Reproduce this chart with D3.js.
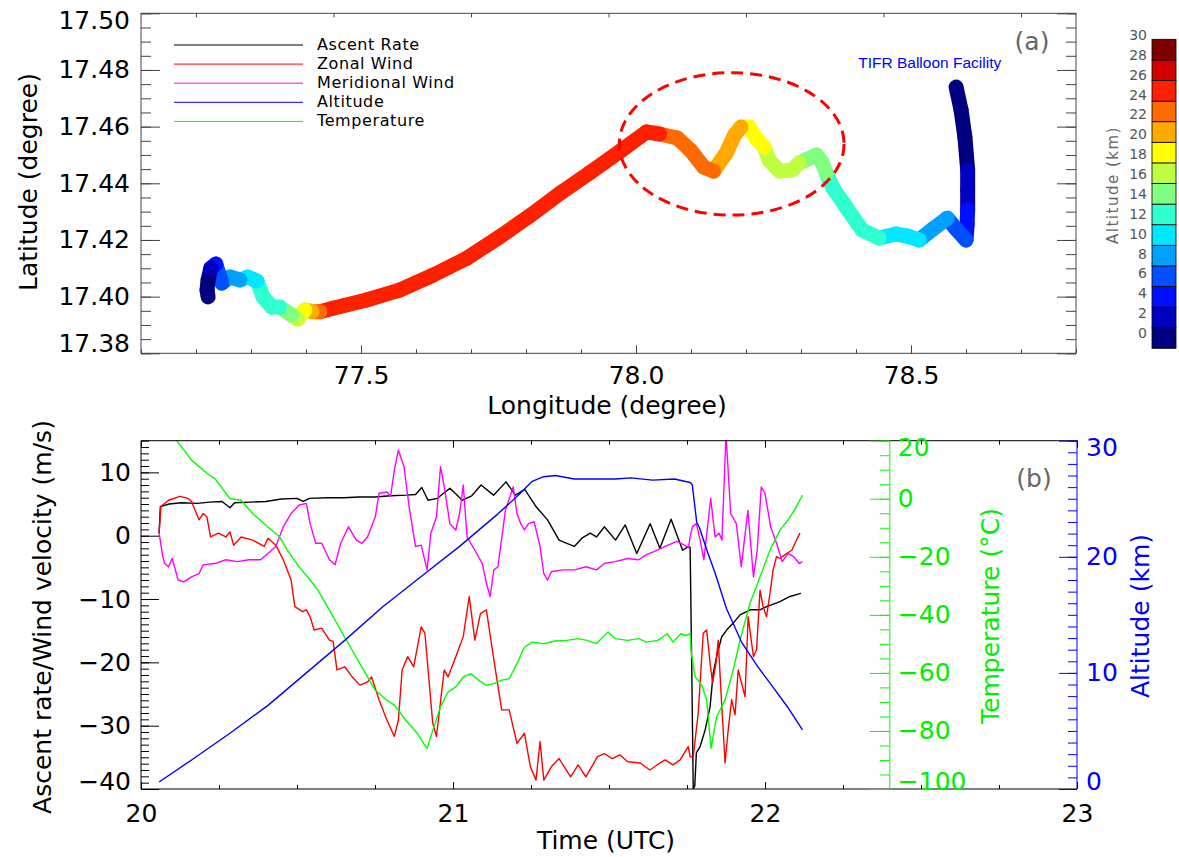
<!DOCTYPE html>
<html>
<head>
<meta charset="utf-8">
<script src="https://cdn.jsdelivr.net/npm/d3@7/dist/d3.min.js"></script>
<style>
  body { margin: 0; background: #fff; }
  svg text { font-family: "DejaVu Sans", sans-serif; }
</style>
</head>
<body>
<svg id="chart" width="1179" height="857"></svg>
<script>
// ---- panel (a): balloon track, colour = altitude (km) ----
var trackLon = [78.582,78.591,78.598,78.603,78.603,78.603,78.602,78.600,78.582,78.566,78.540,78.515,78.493,78.473,78.442,78.411,78.382,78.357,78.346,78.338,78.328,78.297,78.284,78.261,78.242,78.233,78.218,78.206,78.191,78.179,78.164,78.141,78.123,78.099,78.075,78.043,78.019,77.974,77.915,77.865,77.806,77.752,77.692,77.631,77.570,77.510,77.449,77.425,77.411,77.398,77.385,77.374,77.352,77.338,77.322,77.311,77.294,77.280,77.262,77.247,77.236,77.227,77.222,77.220,77.222];
var trackLat = [17.474,17.4659,17.4563,17.4447,17.4376,17.4306,17.4253,17.42,17.4239,17.4277,17.4239,17.42,17.4214,17.4221,17.4207,17.4235,17.4316,17.4387,17.4436,17.4475,17.45,17.4472,17.4447,17.4443,17.4482,17.4528,17.456,17.4599,17.4599,17.457,17.4507,17.4443,17.4457,17.4517,17.456,17.4574,17.4581,17.4517,17.4436,17.4369,17.4284,17.4211,17.4135,17.4076,17.4023,17.3988,17.3959,17.3947,17.3947,17.3953,17.3921,17.3935,17.3963,17.3963,17.3999,17.4055,17.4069,17.4059,17.4069,17.4048,17.4115,17.4101,17.4059,17.4023,17.3999];
var trackAlt = [0.5,0.8,1.2,1.8,3.0,3.8,4.6,5.6,6.6,7.6,8.6,9.6,10.5,11.2,11.9,12.4,13,13.5,13.9,14.5,15,15.9,16.5,17,17.5,17.9,18.5,19,19.6,20.3,21,21.8,22.5,23,23.5,23.9,24.5,25,25,25,25,25,25,25,25,25,25,25,23,21,19,17,15,13,13,12.1,11,10.1,9,8.1,7,5,3,1.5,0.8];

var altLevels = [0,2,4,6,8,10,12,14,16,18,20,22,24,26,28,30];
var jetColors = ["#000080","#0000c0","#0010ff","#0050ff","#00a0ff","#00e8ff","#30ffd0","#80ff80","#c0ff40","#ffff00","#ffaa00","#ff6a00","#ff2000","#d40000","#800000"];

var latTicks = [17.38,17.40,17.42,17.44,17.46,17.48,17.50];
var lonTicks = [77.5,78.0,78.5];

var legendNames = ["Ascent Rate","Zonal Wind","Meridional Wind","Altitude","Temperature"];
var legendColors = ["#000000","#ff0000","#ff00ff","#0000ff","#00ff00"];

// ---- panel (b): time series ----
var tAscent = [20.058,20.062,20.09,20.13,20.18,20.22,20.26,20.285,20.30,20.35,20.40,20.45,20.50,20.52,20.54,20.60,20.65,20.70,20.75,20.80,20.85,20.88,20.90,20.92,20.95,20.99,21.03,21.06,21.09,21.13,21.17,21.20,21.23,21.266,21.303,21.34,21.365,21.389,21.413,21.44,21.46,21.485,21.521,21.552,21.589,21.632,21.663,21.699,21.736,21.752,21.76,21.765,21.77,21.775,21.78,21.792,21.808,21.824,21.834,21.845,21.861,21.877,21.898,21.92,21.952,21.984,22.005,22.048,22.08,22.115];
var ascentRate = [0.4,4.6,5.0,5.2,5.1,5.3,5.4,4.4,5.2,5.3,5.4,5.8,5.9,5.4,5.9,6.0,6.0,6.1,6.1,6.3,6.4,6.5,7.6,5.6,5.9,7.5,5.6,6.3,8.0,6.4,8.5,6.4,7.3,4.6,2.5,-0.7,-1.2,-1.7,-0.4,0.4,-0.2,1.4,-0.7,1.7,-2.8,1.9,-2.0,2.6,-2.3,-1.8,-1.8,-20,-40,-39.5,-34.3,-33.3,-30.7,-27.0,-21.7,-19.1,-16.0,-14.9,-13.8,-12.5,-11.7,-11.7,-11.2,-10.4,-9.6,-9.1];

var tZonal = [20.058,20.064,20.088,20.125,20.15,20.162,20.186,20.199,20.211,20.223,20.248,20.272,20.285,20.297,20.321,20.358,20.395,20.407,20.432,20.456,20.481,20.493,20.518,20.53,20.542,20.555,20.579,20.604,20.616,20.628,20.653,20.677,20.702,20.726,20.739,20.763,20.788,20.812,20.825,20.837,20.855,20.874,20.898,20.91,20.935,20.947,20.972,20.984,21.009,21.033,21.052,21.07,21.088,21.107,21.131,21.156,21.18,21.205,21.229,21.248,21.266,21.279,21.291,21.315,21.34,21.377,21.401,21.426,21.463,21.485,21.51,21.535,21.56,21.6,21.631,21.663,21.68,21.705,21.728,21.754,21.76,21.77,21.786,21.802,21.813,21.824,21.832,21.843,21.85,21.861,21.872,21.882,21.893,21.904,21.914,21.925,21.936,21.946,21.963,21.973,21.984,21.994,22.005,22.016,22.026,22.037,22.048,22.07,22.086,22.096,22.112];
var zonalWind = [0.4,4.6,5.6,6.2,5.9,5.4,2.5,3.5,3.0,-0.2,0.4,-0.2,0.6,-1.5,-0.2,-0.7,-1.7,-0.4,-1.5,-3.8,-7.0,-11.2,-12.0,-11.7,-12.8,-14.9,-14.6,-16.5,-16.7,-21.2,-20.7,-22.3,-23.6,-23.1,-22.3,-25.9,-29.1,-31.7,-29.1,-21.2,-19.1,-20.7,-14.4,-15.4,-29.6,-31.7,-21.2,-22.3,-19.1,-15.9,-9.6,-16.5,-12.3,-11.7,-19.6,-27.5,-27.5,-32.8,-31.2,-36.5,-38.6,-32.5,-38.6,-36.5,-35.2,-38.1,-36.2,-38.1,-34.9,-34.4,-35.2,-34.6,-35.7,-35.9,-37.0,-35.9,-35.4,-36.2,-35.4,-33.3,-34.9,-34.9,-28.0,-15.4,-14.9,-20.1,-23.3,-20.1,-16.5,-26.5,-35.9,-30.7,-25.9,-28.3,-21.2,-23.3,-25.4,-12.8,-19.1,-18.0,-8.6,-11.2,-12.8,-9.1,-5.4,-3.3,-3.6,-2.8,-2.3,-1.2,0.4];

var tMerid = [20.058,20.07,20.076,20.088,20.1,20.119,20.137,20.162,20.186,20.199,20.236,20.272,20.309,20.346,20.383,20.407,20.432,20.456,20.481,20.506,20.53,20.542,20.56,20.579,20.604,20.622,20.64,20.665,20.69,20.708,20.726,20.751,20.763,20.788,20.8,20.812,20.825,20.843,20.861,20.88,20.898,20.917,20.929,20.947,20.96,20.972,20.99,21.009,21.021,21.033,21.045,21.07,21.094,21.107,21.119,21.131,21.144,21.168,21.193,21.205,21.217,21.229,21.242,21.26,21.279,21.291,21.303,21.315,21.352,21.389,21.426,21.46,21.485,21.52,21.56,21.595,21.62,21.644,21.68,21.718,21.742,21.755,21.76,21.767,21.78,21.792,21.804,21.816,21.826,21.84,21.853,21.862,21.875,21.89,21.908,21.924,21.945,21.963,21.975,21.988,22.0,22.018,22.037,22.055,22.074,22.092,22.11,22.12];
var meridWind = [0.4,-3.3,-4.4,-4.9,-3.6,-7.0,-7.3,-6.5,-6.0,-4.6,-4.4,-3.8,-4.1,-3.8,-3.8,-2.8,-1.7,1.4,3.5,4.8,5.1,1.9,-1.2,-1.2,-3.8,-4.6,-1.2,1.4,-0.7,-1.2,-0.2,3.0,6.7,6.9,6.2,10.4,13.5,10.9,4.0,-1.7,-1.5,-5.4,0.4,3.0,10.9,7.7,1.9,0.9,3.5,8.0,-0.2,-2.3,-4.4,-7.5,-9.6,-5.4,-4.9,4.0,7.7,3.5,1.9,0.9,1.9,2.2,-1.7,-6.0,-7.0,-5.7,-5.4,-5.4,-4.9,-5.4,-4.4,-4.1,-3.6,-3.8,-3.0,-2.5,-1.7,-0.9,-1.5,-1.9,-0.2,1.4,1.9,-0.7,-3.8,1.4,5.9,-0.2,0.4,-0.7,16,3.5,1.9,-4.9,4.0,-6.5,-2.3,7.7,6.7,1.4,-1.2,-4.1,-2.8,-3.3,-4.4,-4.1];

var tTemp = [20.058,20.113,20.162,20.211,20.236,20.285,20.321,20.358,20.407,20.444,20.469,20.506,20.542,20.567,20.604,20.64,20.677,20.714,20.751,20.788,20.812,20.849,20.886,20.917,20.935,20.96,20.984,21.009,21.033,21.058,21.082,21.107,21.131,21.156,21.18,21.205,21.229,21.254,21.291,21.328,21.364,21.401,21.43,21.46,21.497,21.52,21.56,21.595,21.62,21.656,21.687,21.705,21.73,21.748,21.76,21.764,21.776,21.797,21.813,21.827,21.845,21.872,21.898,21.92,21.952,21.984,22.016,22.048,22.074,22.098,22.12];
var temperature = [26.6,20.2,13.3,8.8,7.0,0.1,-0.5,-5.1,-9.7,-13.1,-17.7,-23.4,-28.0,-31.5,-38.4,-45.3,-52.2,-59.1,-66.0,-69.4,-71.1,-76.3,-80.9,-86.1,-79.8,-71.7,-66.6,-64.8,-61.4,-60.3,-62.5,-64.3,-63.7,-62.5,-62.0,-56.8,-51.1,-49.4,-49.9,-49.0,-48.8,-48.2,-48.8,-49.9,-45.9,-48.2,-48.8,-48.2,-49.4,-48.8,-46.5,-49.4,-46.5,-47.1,-46.5,-53.3,-61.3,-64.2,-69.3,-86.0,-75.1,-69.3,-59.0,-48.7,-36.0,-26.9,-17.7,-10.8,-7.3,-3.3,1.3];

var tAlt = [20.058,20.162,20.285,20.407,20.53,20.653,20.775,20.898,21.021,21.144,21.205,21.254,21.29,21.328,21.389,21.45,21.52,21.57,21.64,21.71,21.76,21.767,21.781,21.79,21.816,21.84,21.877,21.926,21.975,22.025,22.074,22.12];
var altitude = [0.6,2.5,4.8,7.2,10.0,12.8,15.7,18.3,20.9,23.7,25.2,26.5,26.9,27.0,26.7,26.7,26.7,26.8,26.6,26.7,26.4,26.2,23.0,22.5,20.4,18.6,15.5,12.6,10.6,8.8,7.0,5.1];

var velTicks = [-40,-30,-20,-10,0,10];
var timeTicks = [20,21,22,23];
var tempTicks = [-100,-80,-60,-40,-20,0,20];
var altTicks = [0,10,20,30];

var svg = d3.select("#chart");

function addAxis(x, y, axis, color, size) {
  var g = svg.append("g").attr("transform", "translate(" + x + "," + y + ")").call(axis);
  g.attr("font-family", null).attr("font-size", null);
  g.select(".domain").remove();
  g.selectAll(".tick line").attr("stroke", color);
  g.selectAll(".tick text").attr("fill", color).style("font-size", (size || 25) + "px");
  return g;
}
// IDL keeps the end labels inside the axis
function clampLabels(g, scale, lo, hi) {
  g.selectAll(".tick text").attr("y", function(d) {
    var p = scale(d);
    if (p < lo) return lo - p;
    if (p > hi) return hi - p;
    return 0;
  });
}
function minor(a, b, step) {
  return d3.range(Math.round((b - a) / step) + 1).map(function(i) { return +(a + i * step).toFixed(4); });
}

// ================= panel (a) =================
var xLon = d3.scaleLinear().domain([77.1, 78.8]).range([141, 1076]);
var yLat = d3.scaleLinear().domain([17.38, 17.50]).range([353.3, 13.3]);
var axA = "#444";

// trajectory, one thick segment per step
var segs = d3.range(1, trackLon.length);
svg.append("g").selectAll("line").data(segs).join("line")
  .attr("x1", function(i) { return xLon(trackLon[i - 1]); })
  .attr("y1", function(i) { return yLat(trackLat[i - 1]); })
  .attr("x2", function(i) { return xLon(trackLon[i]); })
  .attr("y2", function(i) { return yLat(trackLat[i]); })
  .attr("stroke", function(i) { return jetColors[Math.min(14, Math.floor(trackAlt[i] / 2))]; })
  .attr("stroke-width", 15)
  .attr("stroke-linecap", "round");

// dashed ellipse around the wavy part
var ellLon = 78.174, ellLat = 17.4539, ellRLon = 0.2043, ellRLat = 0.02513;
svg.append("ellipse")
  .attr("cx", xLon(ellLon)).attr("cy", yLat(ellLat))
  .attr("rx", xLon(ellLon + ellRLon) - xLon(ellLon))
  .attr("ry", yLat(ellLat) - yLat(ellLat + ellRLat))
  .attr("fill", "none").attr("stroke", "#ff0000").attr("stroke-width", 3)
  .attr("stroke-dasharray", "12,7");

svg.append("rect").attr("x", 141).attr("y", 13.3).attr("width", 1076 - 141).attr("height", 340)
  .attr("fill", "none").attr("stroke", axA);

var gl = addAxis(141, 0, d3.axisLeft(yLat).tickValues(latTicks).tickSize(-19).tickPadding(11).tickFormat(d3.format(".2f")), "#000", 25);
gl.selectAll(".tick line").attr("stroke", axA);
clampLabels(gl, yLat, 20.3, 343.3);
addAxis(141, 0, d3.axisLeft(yLat).tickValues(minor(17.38, 17.50, 0.005)).tickSize(-10).tickFormat(""), axA);
addAxis(1076, 0, d3.axisRight(yLat).tickValues(latTicks).tickSize(-19).tickFormat(""), axA);
addAxis(1076, 0, d3.axisRight(yLat).tickValues(minor(17.38, 17.50, 0.005)).tickSize(-10).tickFormat(""), axA);
var gb = addAxis(0, 353.3, d3.axisBottom(xLon).tickValues(lonTicks).tickSize(-8).tickPadding(13).tickFormat(d3.format(".1f")), "#000", 25);
gb.selectAll(".tick line").attr("stroke", axA);
addAxis(0, 353.3, d3.axisBottom(xLon).tickValues(minor(77.1, 78.8, 0.1)).tickSize(-4).tickFormat(""), axA);
addAxis(0, 13.3, d3.axisTop(xLon).tickValues(minor(77.2, 78.8, 0.25)).tickSize(-4).tickFormat(""), axA);

svg.append("text").attr("transform", "translate(28,182) rotate(-90)")
  .attr("text-anchor", "middle").attr("dominant-baseline", "central").style("font-size", "25px")
  .text("Latitude (degree)");
svg.append("text").attr("x", 607).attr("y", 405)
  .attr("text-anchor", "middle").attr("dominant-baseline", "central").style("font-size", "25px")
  .text("Longitude (degree)");
svg.append("text").attr("x", 1032).attr("y", 41).attr("text-anchor", "middle")
  .attr("dominant-baseline", "central").attr("fill", "#666").style("font-size", "25px").text("(a)");
svg.append("text").attr("x", xLon(78.534)).attr("y", yLat(17.4825)).attr("text-anchor", "middle")
  .attr("dominant-baseline", "central").attr("fill", "#0000ff")
  .style("font-family", "'Liberation Sans', Arial, sans-serif").style("font-size", "15.5px")
  .text("TIFR Balloon Facility");

// legend
var lg = svg.append("g");
legendNames.forEach(function(name, i) {
  var y = 45 + i * 19.1;
  lg.append("line").attr("x1", 174).attr("x2", 303).attr("y1", y).attr("y2", y)
    .attr("stroke", legendColors[i]).attr("stroke-width", 1);
  lg.append("text").attr("x", 317).attr("y", y - 1).attr("dominant-baseline", "central")
    .style("font-size", "16px").style("letter-spacing", "0.6px").text(name);
});

// colour bar
var cb = d3.scaleLinear().domain([0, 30]).range([348.3, 39.3]);
var cbLab = d3.scaleLinear().domain([0, 30]).range([333, 35]);
svg.append("g").selectAll("rect").data(jetColors).join("rect")
  .attr("x", 1152).attr("width", 24)
  .attr("y", function(c, i) { return cb(altLevels[i + 1]); })
  .attr("height", function(c, i) { return cb(altLevels[i]) - cb(altLevels[i + 1]); })
  .attr("fill", function(c) { return c; })
  .attr("stroke", "#000").attr("stroke-width", 0.8);
svg.append("g").selectAll("text").data(altLevels).join("text")
  .attr("x", 1147).attr("y", function(d) { return cbLab(d); })
  .attr("text-anchor", "end").attr("dominant-baseline", "central")
  .attr("fill", "#555").style("font-size", "14px").text(function(d) { return d; });
svg.append("text").attr("transform", "translate(1113,185) rotate(-90)")
  .attr("text-anchor", "middle").attr("dominant-baseline", "central")
  .attr("fill", "#666").style("font-size", "15px").style("letter-spacing", "1.5px")
  .text("Altitude (km)");

// ================= panel (b) =================
var xT = d3.scaleLinear().domain([20, 23]).range([141, 1077]);
var yV = d3.scaleLinear().domain([-40, 15]).range([789, 440.7]);
var yTemp = d3.scaleLinear().domain([-100, 20]).range([789, 440.7]);
var yKm = d3.scaleLinear().domain([0, 30]).range([789, 440.7]);

svg.append("clipPath").attr("id", "clipB").append("rect")
  .attr("x", 141).attr("y", 440.7).attr("width", 1077 - 141).attr("height", 789 - 440.7);
var plotB = svg.append("g").attr("clip-path", "url(#clipB)");

function series(ts, vs, yScale, color) {
  var line = d3.line().x(function(d) { return xT(d[0]); }).y(function(d) { return yScale(d[1]); });
  plotB.append("path").datum(d3.zip(ts, vs)).attr("d", line)
    .attr("fill", "none").attr("stroke", color).attr("stroke-width", 1.4)
    .attr("stroke-linejoin", "round");
}
series(tAscent, ascentRate, yV, "#000000");
series(tZonal, zonalWind, yV, "#ff0000");
series(tMerid, meridWind, yV, "#ff00ff");
series(tTemp, temperature, yTemp, "#00ff00");
series(tAlt, altitude, yKm, "#0000ff");

// frame
svg.append("line").attr("x1", 141).attr("x2", 141).attr("y1", 440.7).attr("y2", 789).attr("stroke", "#000");
svg.append("line").attr("x1", 141).attr("x2", 1077).attr("y1", 440.7).attr("y2", 440.7).attr("stroke", "#000");
svg.append("line").attr("x1", 141).attr("x2", 1077).attr("y1", 789).attr("y2", 789).attr("stroke", "#000");

var gv = addAxis(141, 0, d3.axisLeft(yV).tickValues(velTicks).tickSize(-18).tickPadding(10), "#000", 25);
clampLabels(gv, yV, 447.7, 781);
addAxis(141, 0, d3.axisLeft(yV).tickValues(d3.range(-40, 16)).tickSize(-8).tickFormat(""), "#000");
addAxis(0, 789, d3.axisBottom(xT).tickValues(timeTicks).tickSize(-7).tickPadding(15).tickFormat(d3.format("d")), "#000", 25);
addAxis(0, 789, d3.axisBottom(xT).tickValues(minor(20, 23, 0.25)).tickSize(-4).tickFormat(""), "#000");
addAxis(0, 440.7, d3.axisTop(xT).tickValues(timeTicks).tickSize(-7).tickFormat(""), "#000");
addAxis(0, 440.7, d3.axisTop(xT).tickValues(minor(20, 23, 0.25)).tickSize(-4).tickFormat(""), "#000");

// temperature axis inside the plot at 22.4 UTC
var xTempAxis = xT(22.4);
svg.append("line").attr("x1", xTempAxis).attr("x2", xTempAxis).attr("y1", 440.7).attr("y2", 789).attr("stroke", "#00ff00");
var gt = addAxis(xTempAxis, 0, d3.axisRight(yTemp).tickValues(tempTicks).tickSize(-20).tickPadding(8), "#00ee00", 25);
gt.selectAll(".tick line").attr("stroke", "#00ff00");
clampLabels(gt, yTemp, 447, 781);
addAxis(xTempAxis, 0, d3.axisRight(yTemp).tickValues(minor(-100, 20, 5)).tickSize(-10).tickFormat(""), "#00ff00");

// altitude axis on the right
svg.append("line").attr("x1", 1077).attr("x2", 1077).attr("y1", 440.7).attr("y2", 789).attr("stroke", "#0000ff");
var ga = addAxis(1077, 0, d3.axisRight(yKm).tickValues(altTicks).tickSize(-18).tickPadding(9), "#0000ff", 25);
clampLabels(ga, yKm, 447, 781);
addAxis(1077, 0, d3.axisRight(yKm).tickValues(d3.range(0, 31)).tickSize(-9).tickFormat(""), "#0000ff");

svg.append("text").attr("transform", "translate(42,617) rotate(-90)")
  .attr("text-anchor", "middle").attr("dominant-baseline", "central").style("font-size", "25px")
  .text("Ascent rate/Wind velocity (m/s)");
svg.append("text").attr("x", 606).attr("y", 840)
  .attr("text-anchor", "middle").attr("dominant-baseline", "central").style("font-size", "25px")
  .text("Time (UTC)");
svg.append("text").attr("transform", "translate(990,616) rotate(-90)")
  .attr("text-anchor", "middle").attr("dominant-baseline", "central").attr("fill", "#00ee00")
  .style("font-size", "25px").text("Temperature (°C)");
svg.append("text").attr("transform", "translate(1140,616) rotate(-90)")
  .attr("text-anchor", "middle").attr("dominant-baseline", "central").attr("fill", "#0000ff")
  .style("font-size", "25px").text("Altitude (km)");
svg.append("text").attr("x", 1034).attr("y", 478).attr("text-anchor", "middle")
  .attr("dominant-baseline", "central").attr("fill", "#666").style("font-size", "25px").text("(b)");
</script>
</body>
</html>
